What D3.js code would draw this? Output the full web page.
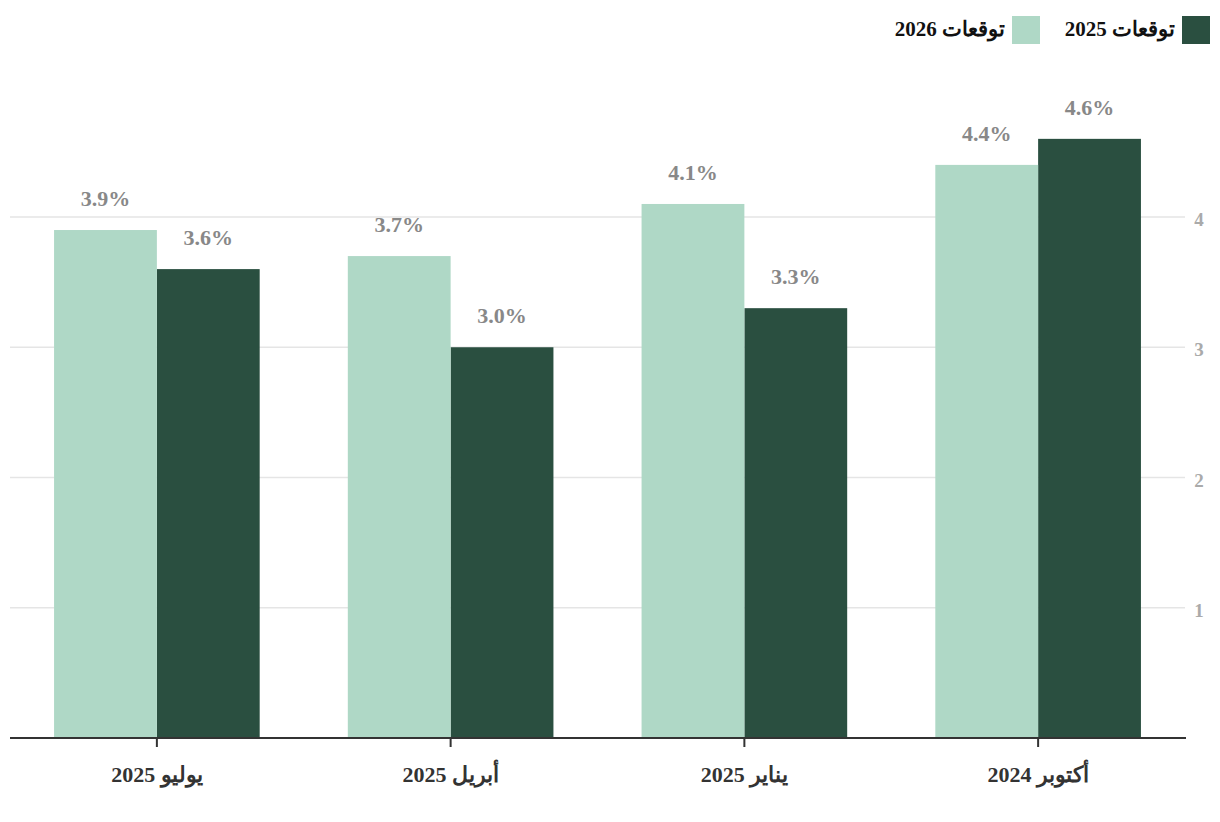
<!DOCTYPE html>
<html><head><meta charset="utf-8">
<script src="https://cdn.jsdelivr.net/npm/d3@7"></script>
<style>body{margin:0;background:#fff}svg{display:block}text{font-family:"Liberation Serif","DejaVu Serif",serif;font-weight:bold}</style>
</head><body><svg id="c" width="1220" height="822"></svg>
<script>
const categories = ["أكتوبر 2024", "يناير 2025", "أبريل 2025", "يوليو 2025"];
const seriesNames = ["توقعات 2025", "توقعات 2026"];
const values2025 = [4.6, 3.3, 3.0, 3.6];
const values2026 = [4.4, 4.1, 3.7, 3.9];
const yTicks = [1, 2, 3, 4];
const colors = ["#2a4f40", "#afd8c6"];

const svg = d3.select("#c");
const x = d3.scaleBand().domain(categories).range([1185, 10]).paddingInner(0.3).paddingOuter(0.15);
const xs = d3.scaleBand().domain(seriesNames).range([x.bandwidth(), 0]);
const y = d3.scaleLinear().domain([0, 4]).range([738, 217]);

// grid
svg.append("g").selectAll("line").data(yTicks).join("line")
  .attr("x1", 10).attr("x2", 1185).attr("y1", d => y(d)).attr("y2", d => y(d))
  .attr("stroke", "#e5e5e5").attr("stroke-width", 1.5);
svg.append("g").selectAll("text").data(yTicks).join("text")
  .attr("x", 1199).attr("y", d => y(d) + 9).attr("text-anchor", "middle")
  .attr("font-size", 19).attr("fill", "#aaaaaa").text(d => d);

const data = categories.map((c, i) => ({c, vals: [values2025[i], values2026[i]]}));
const g = svg.append("g").selectAll("g").data(data).join("g")
  .attr("transform", d => `translate(${x(d.c)},0)`);
g.selectAll("rect").data(d => d.vals.map((v, j) => ({v, s: seriesNames[j], j}))).join("rect")
  .attr("x", d => xs(d.s)).attr("width", xs.bandwidth())
  .attr("y", d => y(d.v)).attr("height", d => y(0) - y(d.v))
  .attr("fill", d => colors[d.j]);
g.selectAll("text").data(d => d.vals.map((v, j) => ({v, s: seriesNames[j], j}))).join("text")
  .attr("x", d => xs(d.s) + xs.bandwidth() / 2).attr("y", d => y(d.v) - 24)
  .attr("text-anchor", "middle").attr("font-size", 22).attr("fill", "#888888")
  .text(d => d.v.toFixed(1) + "%");

// x axis
svg.append("line").attr("x1", 10).attr("x2", 1186).attr("y1", 738).attr("y2", 738)
  .attr("stroke", "#333").attr("stroke-width", 2);
svg.append("g").selectAll("line").data(categories).join("line")
  .attr("x1", d => x(d) + x.bandwidth() / 2).attr("x2", d => x(d) + x.bandwidth() / 2)
  .attr("y1", 738).attr("y2", 747).attr("stroke", "#333").attr("stroke-width", 2);
svg.append("g").selectAll("text").data(categories).join("text")
  .attr("x", d => x(d) + x.bandwidth() / 2).attr("y", 782).attr("text-anchor", "middle")
  .attr("font-size", 22).attr("fill", "#333").text(d => d);

// legend
const legX = [1182, 1012];
const lg = svg.append("g").selectAll("g").data(seriesNames).join("g");
lg.append("rect").attr("x", (d, i) => legX[i]).attr("y", 16).attr("width", 28).attr("height", 28)
  .attr("fill", (d, i) => colors[i]);
lg.append("text").attr("x", (d, i) => legX[i] - 7).attr("y", 36).attr("text-anchor", "end")
  .attr("font-size", 21).attr("fill", "#111").text(d => d);
</script></body></html>
